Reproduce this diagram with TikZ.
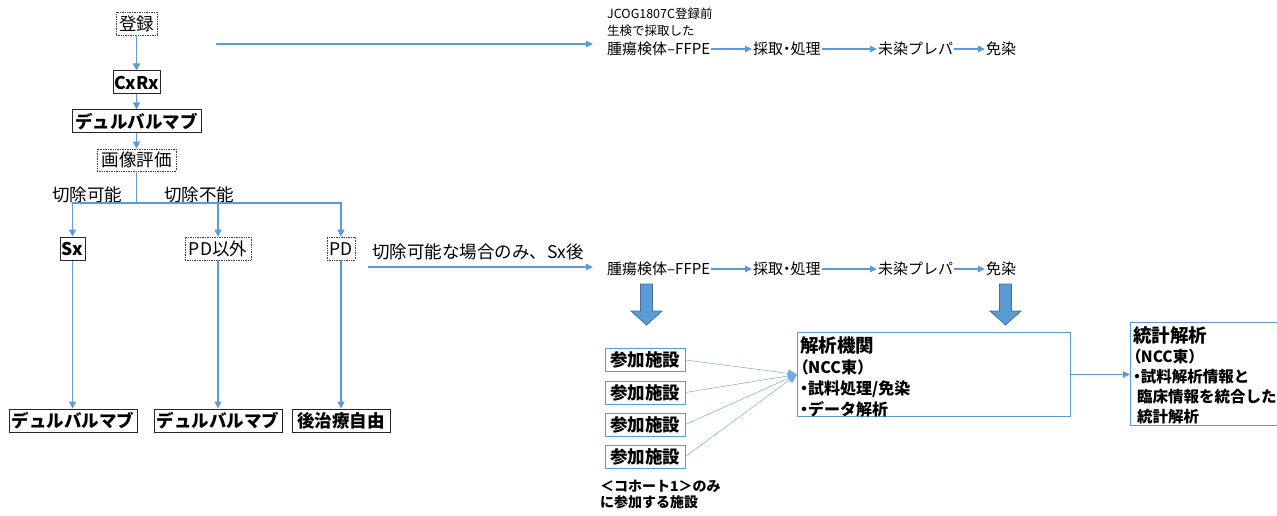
\documentclass[tikz,border=0pt]{standalone}
\usepackage{fontspec}
\setmainfont{Noto Sans CJK JP}
\usetikzlibrary{arrows.meta}
\definecolor{lb}{HTML}{5B9BD5}
\definecolor{lbd}{HTML}{41719C}
\newcommand{\pal}[1]{{\addfontfeature{RawFeature=+palt}#1}}
\tikzset{
  boxfont/.style={font=\fontsize{17.5}{20}\selectfont, text height=15.4pt, text depth=2.1pt},
  dotbox/.style={boxfont, draw=black!75, densely dotted, line width=0.7pt, inner sep=0pt},
  solidbox/.style={boxfont, font=\bfseries\fontsize{17.5}{20}\selectfont, draw=black!85, line width=1pt, inner sep=0pt},
  sitebox/.style={boxfont, font=\bfseries\fontsize{17.5}{20}\selectfont, draw=lb, line width=1pt, inner sep=0pt, minimum width=80pt, minimum height=23pt},
  plainlbl/.style={boxfont, inner sep=0pt},
  rowtxt/.style={anchor=west, inner xsep=1pt, inner ysep=0pt, font=\fontsize{15}{18}\selectfont, text height=13.2pt, text depth=1.8pt},
  conn/.style={draw=lb, line width=1.3pt, -{Triangle[length=7pt,width=7pt]}},
  plainline/.style={draw=lb, line width=1.3pt},
  rowconn/.style={draw=lb, line width=1.1pt, -{Triangle[length=7pt,width=6.5pt]}},
  thinconn/.style={draw=lb!85, line width=0.5pt, -{Triangle[length=9pt,width=8pt]}},
  bigbox/.style={draw=lb, line width=1pt, anchor=north west, inner sep=0pt},
  innertext/.style={anchor=north west, inner sep=0pt, align=left},
  blockarrow/.pic={
    \filldraw[fill=lb, draw=lbd, line width=0.8pt]
      (-6,0) -- (6,0) -- (6,27) -- (15.5,27) -- (0,41) -- (-15.5,27) -- (-6,27) -- cycle;
  }
}
\begin{document}
\begin{tikzpicture}[x=1pt,y=-1pt]
\useasboundingbox (0,0) rectangle (1277,516);
\clip (0,0) rectangle (1277,516);

% left flow
\node[dotbox, minimum width=41pt, minimum height=23pt] (reg) at (136.5,23.5) {登録};
\node[solidbox, minimum width=47pt, minimum height=23pt] (cxrx) at (136.5,82.5) {CxRx};
\node[solidbox, minimum width=129pt, minimum height=23pt] (dur1) at (136.5,121.5) {デュルバルマブ};
\node[dotbox, minimum width=79pt, minimum height=22pt] (img) at (136.5,160) {画像評価};

\node[solidbox, minimum width=25pt, minimum height=23pt] (sx) at (72.5,248.5) {Sx};
\node[dotbox, minimum width=66pt, minimum height=23pt] (pdx) at (218,248.5) {PD以外};
\node[dotbox, minimum width=28pt, minimum height=23pt] (pd) at (341,248.5) {PD};

\node[solidbox, minimum width=128pt, minimum height=23pt] (dur2) at (73,420.5) {デュルバルマブ};
\node[solidbox, minimum width=128pt, minimum height=23pt] (dur3) at (218,420.5) {デュルバルマブ};
\node[solidbox, minimum width=98pt, minimum height=23pt] (post) at (341,420.5) {後治療自由};

\node[plainlbl] (res) at (87,195) {切除可能};
\node[plainlbl] (unres) at (199,195) {切除不能};

\draw[conn] (reg) -- (cxrx);
\draw[conn] (cxrx) -- (dur1);
\draw[conn] (dur1) -- (img);
\draw[plainline] (img.south) -- (136.5,203) coordinate (br);
\draw[conn] (br) -| (sx.north);
\draw[conn] (br) -| (pdx.north);
\draw[conn] (br) -| (pd.north);
\draw[conn] (sx.south) -- (sx.south |- dur2.north);
\draw[conn] (pdx.south) -- (pdx.south |- dur3.north);
\draw[conn] (pd.south) -- (pd.south |- post.north);

% top row
\coordinate (topstart) at (216,44);
\coordinate (topend) at (593,44);
\draw[rowconn] (topstart) -- (topend);
\node[anchor=north west, inner sep=0pt, align=left, font=\fontsize{12.5}{17}\selectfont] (jcog) at (607,7.5) {JCOG1807C登録前\\生検で採取した};
\node[rowtxt] (a1) at (606,49) {腫瘍検体–FFPE};
\node[rowtxt] (a2) at (752,49) {採取\pal{・}処理};
\node[rowtxt] (a3) at (877,49) {未染プレパ};
\node[rowtxt] (a4) at (985,49) {免染};
\draw[rowconn] (a1.east) -- (a2.west);
\draw[rowconn] (a2.east) -- (a3.west);
\draw[rowconn] (a3.east) -- (a4.west);

% second row
\coordinate (midstart) at (368,267);
\coordinate (midend) at (593,267);
\draw[rowconn] (midstart) -- (midend);
\node[anchor=west, inner sep=0pt, font=\fontsize{17.5}{20}\selectfont] (cond) at (372,252) {切除可能な場合のみ、Sx後};
\node[rowtxt] (b1) at (606,269) {腫瘍検体–FFPE};
\node[rowtxt] (b2) at (752,269) {採取\pal{・}処理};
\node[rowtxt] (b3) at (877,269) {未染プレパ};
\node[rowtxt] (b4) at (985,269) {免染};
\draw[rowconn] (b1.east) -- (b2.west);
\draw[rowconn] (b2.east) -- (b3.west);
\draw[rowconn] (b3.east) -- (b4.west);

\pic at (646.5,284) {blockarrow};
\pic at (1005.5,284) {blockarrow};

% sites
\node[sitebox] (s1) at (645,360) {参加施設};
\node[sitebox] (s2) at (645,392.5) {参加施設};
\node[sitebox] (s3) at (645,424.5) {参加施設};
\node[sitebox] (s4) at (645,456.5) {参加施設};
\node[anchor=north west, inner sep=0pt, align=left, font=\bfseries\fontsize{14}{16}\selectfont] (cohort) at (600,480) {\pal{＜}コホート1\pal{＞}のみ\\に参加する施設};

% analysis box
\node[bigbox, minimum width=273pt, minimum height=84pt] (ana) at (797,332) {};
\node[innertext, font=\bfseries\fontsize{16}{21}\selectfont] (anatxt) at (800,336)
  {{\fontsize{18.5}{21}\selectfont 解析機関}\\\pal{（}NCC東）\\\pal{・}試料処理/免染\\\pal{・}データ解析};

\draw[thinconn] (s1.east) -- (ana.west);
\draw[thinconn] (s2.east) -- (ana.west);
\draw[thinconn] (s3.east) -- (ana.west);
\draw[thinconn] (s4.east) -- (ana.west);

% statistics box
\node[bigbox, minimum width=170pt, minimum height=103pt] (stat) at (1130,322) {};
\node[innertext, font=\bfseries\fontsize{15.5}{20}\selectfont] (stattxt) at (1133,326)
  {{\fontsize{18.5}{20}\selectfont 統計解析}\\\pal{（}NCC東）\\\pal{・}試料解析情報と\\\hspace{4pt}臨床情報を統合した\\\hspace{4pt}統計解析};

\draw[rowconn] (ana.east) -- (ana.east -| stat.west);
\end{tikzpicture}
\end{document}
